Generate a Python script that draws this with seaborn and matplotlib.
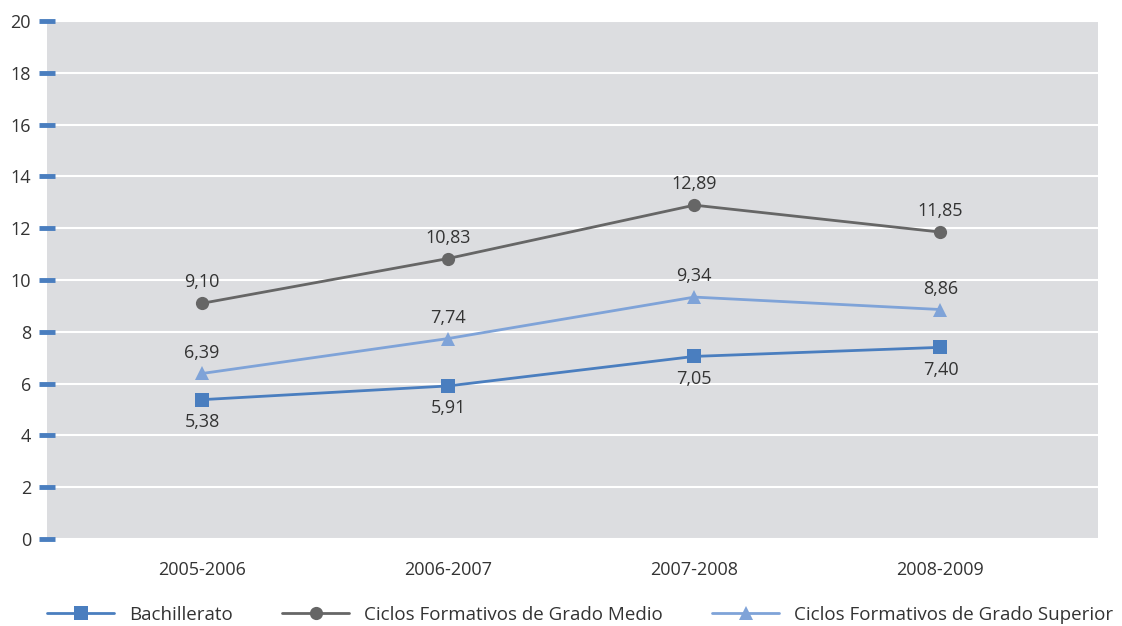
import pandas as pd
import matplotlib.pyplot as plt
import seaborn as sns

# Chart data
years = ['2005-2006', '2006-2007', '2007-2008', '2008-2009']
bachillerato = [5.38, 5.91, 7.05, 7.40]
grado_medio = [9.10, 10.83, 12.89, 11.85]
grado_superior = [6.39, 7.74, 9.34, 8.86]
series_names = ['Bachillerato', 'Ciclos Formativos de Grado Medio',
                'Ciclos Formativos de Grado Superior']

data = pd.DataFrame({
    'curso': years * 3,
    'valor': bachillerato + grado_medio + grado_superior,
    'serie': [series_names[0]] * 4 + [series_names[1]] * 4 + [series_names[2]] * 4,
})

colors = {series_names[0]: '#4a7ebf', series_names[1]: '#666666', series_names[2]: '#7fa3d8'}
markers = {series_names[0]: 's', series_names[1]: 'o', series_names[2]: '^'}

sns.set_style('white')
plt.rcParams['font.family'] = ['Open Sans', 'DejaVu Sans']
text_color = '#333333'

fig = plt.figure(figsize=(11.22, 6.26), dpi=100)
ax = fig.add_axes([47 / 1122, 87 / 626, 1051 / 1122, 518 / 626])
ax.set_facecolor('#dcdde0')

sns.lineplot(data=data, x='curso', y='valor', hue='serie', style='serie',
             palette=colors, markers=markers, dashes=False, linewidth=2,
             markersize=9.5, markeredgewidth=0, sort=False, ax=ax)

# Data labels
offsets = {series_names[0]: -16, series_names[1]: 15, series_names[2]: 15}
for name, vals in zip(series_names, [bachillerato, grado_medio, grado_superior]):
    for i, v in enumerate(vals):
        ax.annotate(f'{v:.2f}'.replace('.', ','), (i, v), xytext=(0, offsets[name]),
                    textcoords='offset points', ha='center', va='center',
                    fontsize=13, color=text_color)

ax.set_ylim(0, 20)
ax.set_yticks(range(0, 21, 2))
ax.set_xlim(-0.63, 3.64)
ax.yaxis.grid(True, color='white', linewidth=1.5)
ax.set_axisbelow(True)
for s in ax.spines.values():
    s.set_visible(False)
ax.tick_params(axis='y', left=True, direction='inout', length=11, width=3.5,
               color='#4a7ebf', labelsize=13, labelcolor=text_color, pad=6)
ax.tick_params(axis='x', bottom=False, labelsize=13, labelcolor=text_color, pad=12)
ax.set_xlabel('')
ax.set_ylabel('')

handles, labels = ax.get_legend_handles_labels()
ax.legend_.remove()
fig.legend(handles, labels, loc='center left', bbox_to_anchor=(30 / 1122, 11 / 626),
           ncol=3, frameon=False, handlelength=3.6, columnspacing=2.6,
           handletextpad=0.8, prop={'size': 13.5}, labelcolor=text_color)

plt.savefig('out.png', dpi=100)
plt.close()
